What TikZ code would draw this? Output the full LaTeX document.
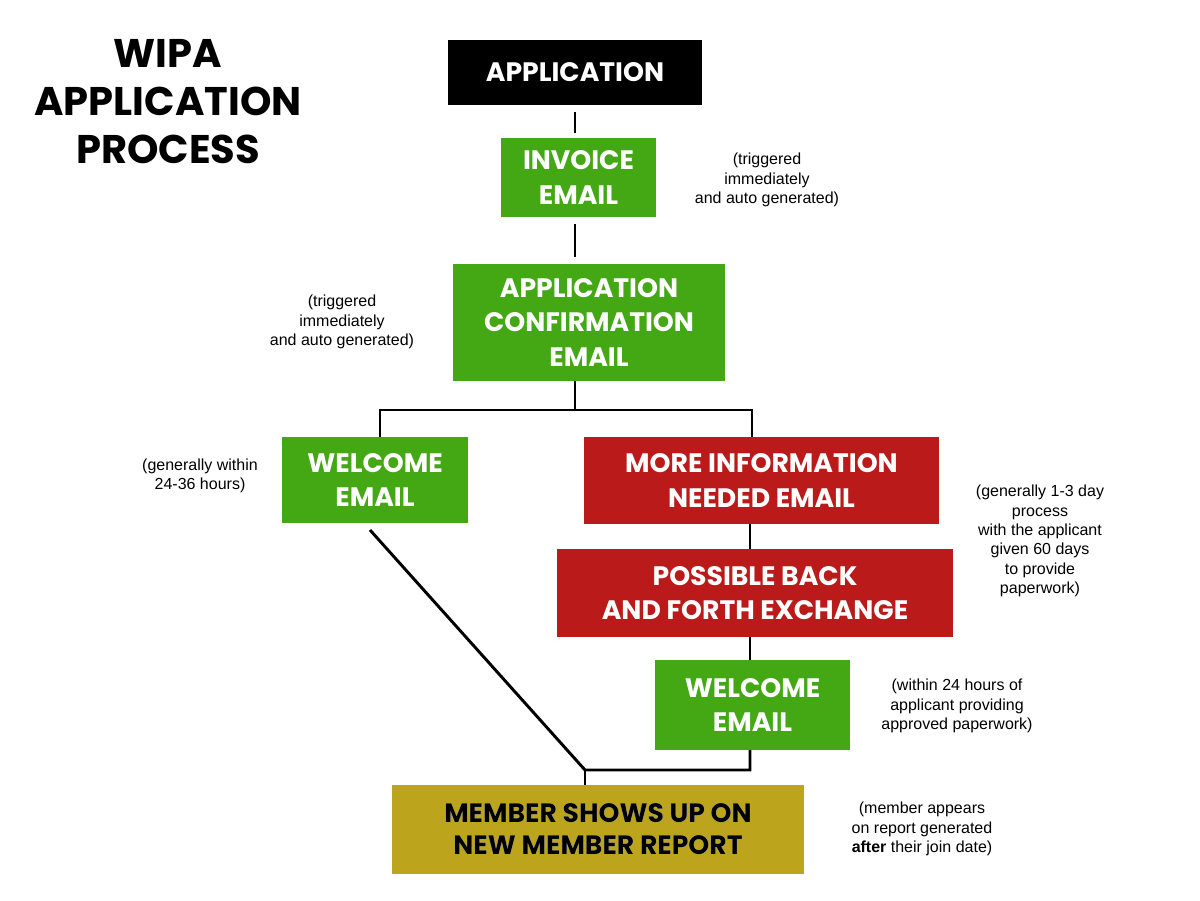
\documentclass[tikz,border=0pt]{standalone}
\usepackage{fontspec}
\setmainfont{Liberation Sans}
\newfontfamily\pop{Poppins}[BoldFont={* Bold}]
\usepackage[outline]{contour}
\contourlength{2.2pt}
\definecolor{gr}{HTML}{44A815}
\definecolor{rd}{HTML}{BB1A1A}
\definecolor{gd}{HTML}{BCA51C}
\begin{document}
\begin{tikzpicture}[x=0.75pt,y=-0.75pt,
 bx/.style={inner sep=0pt,text=white,font=\pop\bfseries\fontsize{20}{26}\selectfont,align=center},
 note/.style={font=\fontsize{12}{14.5}\selectfont,align=center},
 ln/.style={line width=2.2pt}]
\useasboundingbox (0,0) rectangle (1200,900);
\fill[white] (0,0) rectangle (1200,900);
\node[bx,fill=black,minimum width=254*0.75pt,minimum height=65*0.75pt] (app) at (575,72.5) {APPLICATION};
\node[bx,fill=gr,minimum width=155*0.75pt,minimum height=79*0.75pt] (inv) at (578.5,177.5) {INVOICE\\EMAIL};
\node[bx,fill=gr,minimum width=272*0.75pt,minimum height=117*0.75pt] (conf) at (589,322.5) {APPLICATION\\CONFIRMATION\\EMAIL};
\node[bx,fill=gr,minimum width=186*0.75pt,minimum height=86*0.75pt] (wl) at (375,480) {WELCOME\\EMAIL};
\node[bx,fill=rd,minimum width=355*0.75pt,minimum height=87*0.75pt] (more) at (761.5,480.5) {MORE INFORMATION\\NEEDED EMAIL};
\node[bx,fill=rd,minimum width=396*0.75pt,minimum height=88*0.75pt] (poss) at (755,593) {POSSIBLE BACK\\AND FORTH EXCHANGE};
\node[bx,fill=gr,minimum width=195*0.75pt,minimum height=90*0.75pt] (wr) at (752.5,705) {WELCOME\\EMAIL};
\node[bx,fill=gd,text=black,minimum width=412*0.75pt,minimum height=89*0.75pt] (mem) at (598,829.5) {\contour{white}{MEMBER SHOWS UP ON}\\[-2pt]\contour{white}{NEW MEMBER REPORT}};
\node[font=\pop\bfseries\fontsize{30}{36}\selectfont,align=center] (title) at (168,102) {WIPA\\APPLICATION\\PROCESS};
\node[note] (n1) at (767,180) {(triggered\\immediately\\and auto generated)};
\node[note] (n2) at (342,322) {(triggered\\immediately\\and auto generated)};
\node[note] (n3) at (200,476) {(generally within\\24-36 hours)};
\node[note] (n4) at (1040,541) {(generally 1-3 day\\process\\with the applicant\\given 60 days\\to provide\\paperwork)};
\node[note] (n5) at (957,706) {(within 24 hours of\\applicant providing\\approved paperwork)};
\node[note] (n6) at (922,829) {(member appears\\on report generated\\\textbf{after} their join date)};
\draw[ln,shorten <=7pt*0.75,shorten >=5pt*0.75] (app.south) -- (app.south|-inv.north);
\draw[ln,shorten <=7pt*0.75,shorten >=7pt*0.75] (app.south|-inv.south) -- (app.south|-conf.north);
\coordinate (c0) at (575,410);
\draw[ln] (575,381) -- (c0);
\draw[ln] (380,437) -- (380,410) -- (752,410) -- (752,437);
\draw[ln] (750,524) -- (750,549);
\draw[ln] (750,637) -- (750,660);
\coordinate (j) at (585,770);
\draw[ln] (370,530) -- (j) -- (750,770) -- (750,750);
\draw[ln] (j) -- (585,785);
\end{tikzpicture}
\end{document}
